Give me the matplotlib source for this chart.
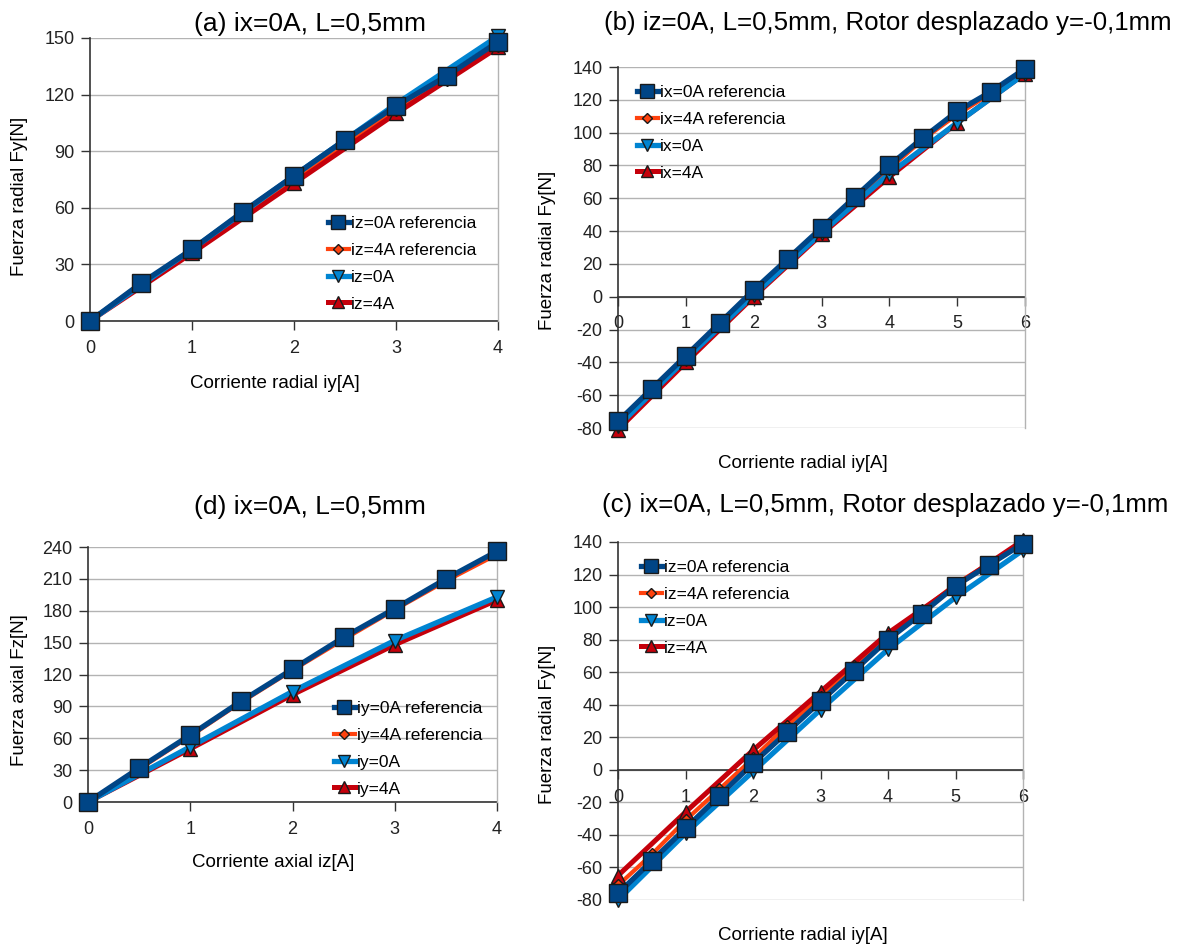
import matplotlib
matplotlib.use("Agg")
import matplotlib.pyplot as plt
from matplotlib.lines import Line2D

plt.rcParams['font.family'] = ['Liberation Sans', 'DejaVu Sans']
plt.rcParams['axes.unicode_minus'] = False

W, H = 1183, 947

# ---------------- data ----------------
iy_half_4 = [0, 0.5, 1, 1.5, 2, 2.5, 3, 3.5, 4]
iy_int_4 = [0, 1, 2, 3, 4]
iy_half_6 = [0, 0.5, 1, 1.5, 2, 2.5, 3, 3.5, 4, 4.5, 5, 5.5, 6]
iy_int_6 = [0, 1, 2, 3, 4, 5, 6]

# (a) Fy vs iy, ix=0A
a_ref_iz0 = [0, 20, 38, 58, 77, 96, 114, 130, 148]
a_ref_iz4 = [0, 20, 37, 57, 75, 94, 112, 128, 146]
a_iz0 = [0, 38, 77, 115, 151]
a_iz4 = [0, 36, 73, 110, 145]

# (b) Fy vs iy, iz=0A, rotor displaced
b_ref_ix0 = [-76, -56, -36, -16, 4, 23, 42, 61, 80, 97, 113, 125, 139]
b_ref_ix4 = [-78, -57, -38, -17, 2, 21, 40, 60, 78, 96, 111, 124, 137]
b_ix0 = [-79, -38, 1, 39, 75, 106, 136]
b_ix4 = [-81, -40, 0, 38, 73, 106, 136]

# (c) Fy vs iy, ix=0A, rotor displaced
c_ref_iz0 = [-76, -56, -36, -16, 4, 23, 42, 61, 80, 96, 113, 126, 139]
c_ref_iz4 = [-71, -52, -31, -12, 7, 27, 45, 64, 82, 98, 114, 127, 140]
c_iz0 = [-80, -39, -1, 37, 74, 106, 135]
c_iz4 = [-65, -26, 12, 48, 84, 113, 141]

# (d) Fz vs iz, ix=0A
d_ref_iy0 = [0, 32, 63, 95, 125, 155, 182, 210, 236]
d_ref_iy4 = [0, 31, 62, 94, 124, 153, 181, 208, 233]
d_iy0 = [0, 52, 104, 152, 193]
d_iy4 = [0, 50, 101, 148, 190]

titles = ["(a) ix=0A, L=0,5mm",
          "(b) iz=0A, L=0,5mm, Rotor desplazado y=-0,1mm",
          "(c) ix=0A, L=0,5mm, Rotor desplazado y=-0,1mm",
          "(d) ix=0A, L=0,5mm"]
labels_a = ["iz=0A referencia", "iz=4A referencia", "iz=0A", "iz=4A"]
labels_b = ["ix=0A referencia", "ix=4A referencia", "ix=0A", "ix=4A"]
labels_c = ["iz=0A referencia", "iz=4A referencia", "iz=0A", "iz=4A"]
labels_d = ["iy=0A referencia", "iy=4A referencia", "iy=0A", "iy=4A"]

# ---------------- styles ----------------
DARK = '#004586'
ORANGE = '#ff420e'
LIGHT = '#0084d1'
RED = '#c5000b'
GRID = '#b3b3b3'
AXC = '#333333'

styles = [
    dict(color=DARK, marker='s', ms=12.5, lw=3.8, zl=2.4, zm=3.4),
    dict(color=ORANGE, marker='D', ms=6.5, lw=3.0, zl=2.1, zm=3.3),
    dict(color=LIGHT, marker='v', ms=10, lw=3.8, zl=2.3, zm=3.2),
    dict(color=RED, marker='^', ms=10, lw=3.6, zl=2.2, zm=3.1),
]


def px(x, y):
    return x / W, 1 - y / H


fig = plt.figure(figsize=(W / 100, H / 100), dpi=100)


def make_axes(l, r, t, b):
    return fig.add_axes([l / W, 1 - b / H, (r - l) / W, (b - t) / H])


def plot_panel(ax, xs_list, ys_list, labels, xlim, ylim, yticks, xticks):
    handles = []
    for xs, ys, st, lab in zip(xs_list, ys_list, styles, labels):
        ax.plot(xs, ys, color=st['color'], lw=st['lw'], zorder=st['zl'],
                solid_capstyle='butt', clip_on=False)
        ax.plot(xs, ys, ls='none', marker=st['marker'], ms=st['ms'],
                mfc=st['color'], mec='#1a1a1a', mew=1.0, zorder=st['zm'],
                clip_on=False)
        handles.append(Line2D([0], [0], color=st['color'], lw=st['lw'],
                              marker=st['marker'], ms=st['ms'] * 0.8,
                              mfc=st['color'], mec='#1a1a1a', mew=1.0,
                              label=lab))
    ax.set_xlim(*xlim)
    ax.set_ylim(*ylim)
    ax.set_yticks(yticks)
    ax.set_xticks(xticks)
    ax.yaxis.grid(True, color=GRID, lw=1.0, zorder=0)
    ax.set_axisbelow(True)
    ax.spines['top'].set_visible(False)
    ax.spines['right'].set_color(GRID)
    ax.spines['right'].set_linewidth(1.0)
    ax.spines['left'].set_color(AXC)
    ax.spines['left'].set_linewidth(1.2)
    ax.spines['bottom'].set_color(AXC)
    ax.spines['bottom'].set_linewidth(1.2)
    ax.spines['bottom'].set_zorder(1.5)
    ax.tick_params(axis='both', direction='out', length=6.5, width=1.0,
                   color=AXC, labelsize=13, labelcolor='#222222')
    ax.tick_params(axis='y', pad=4.5)
    ax.tick_params(axis='x', pad=7)
    return handles


def add_legend(ax, handles, x, y):
    ax.legend(handles=handles, loc='upper left',
              bbox_to_anchor=px(x, y), bbox_transform=fig.transFigure,
              frameon=False, fontsize=12.5, handlelength=1.2,
              handletextpad=0.1, labelspacing=0.67, borderpad=0,
              borderaxespad=0, numpoints=1)


# (a)
ax_a = make_axes(90, 498, 38, 321)
h = plot_panel(ax_a, [iy_half_4, iy_half_4, iy_int_4, iy_int_4],
               [a_ref_iz0, a_ref_iz4, a_iz0, a_iz4], labels_a,
               (0, 4), (0, 150), list(range(0, 151, 30)), [0, 1, 2, 3, 4])
add_legend(ax_a, h, 328, 216)

# (b)
ax_b = make_axes(618, 1025, 67, 428)
h = plot_panel(ax_b, [iy_half_6, iy_half_6, iy_int_6, iy_int_6],
               [b_ref_ix0, b_ref_ix4, b_ix0, b_ix4], labels_b,
               (0, 6), (-80, 140), list(range(-80, 141, 20)), list(range(0, 7)))
ax_b.spines['bottom'].set_position(('data', 0))
add_legend(ax_b, h, 637, 85)

# (c)
ax_c = make_axes(618, 1023, 542, 900)
h = plot_panel(ax_c, [iy_half_6, iy_half_6, iy_int_6, iy_int_6],
               [c_ref_iz0, c_ref_iz4, c_iz0, c_iz4], labels_c,
               (0, 6), (-80, 140), list(range(-80, 141, 20)), list(range(0, 7)))
ax_c.spines['bottom'].set_position(('data', 0))
add_legend(ax_c, h, 641, 560)

# (d)
ax_d = make_axes(88, 497, 547, 802)
h = plot_panel(ax_d, [iy_half_4, iy_half_4, iy_int_4, iy_int_4],
               [d_ref_iy0, d_ref_iy4, d_iy0, d_iy4], labels_d,
               (0, 4), (0, 240), list(range(0, 241, 30)), [0, 1, 2, 3, 4])
add_legend(ax_d, h, 334, 701)

# titles
fig.text(*px(310, 24), titles[0], ha='center', va='center', fontsize=19)
fig.text(*px(604, 23), titles[1], ha='left', va='center', fontsize=18.6)
fig.text(*px(602, 505), titles[2], ha='left', va='center', fontsize=18.6)
fig.text(*px(310, 507), titles[3], ha='center', va='center', fontsize=19)

# axis labels
fig.text(*px(275, 383), "Corriente radial iy[A]", ha='center', va='center', fontsize=13.5)
fig.text(*px(803, 463), "Corriente radial iy[A]", ha='center', va='center', fontsize=13.5)
fig.text(*px(803, 935), "Corriente radial iy[A]", ha='center', va='center', fontsize=13.5)
fig.text(*px(273, 862), "Corriente axial iz[A]", ha='center', va='center', fontsize=13.5)
fig.text(*px(20, 196), "Fuerza radial Fy[N]", ha='center', va='center', rotation=90, fontsize=13.5)
fig.text(*px(548, 250), "Fuerza radial Fy[N]", ha='center', va='center', rotation=90, fontsize=13.5)
fig.text(*px(548, 724), "Fuerza radial Fy[N]", ha='center', va='center', rotation=90, fontsize=13.5)
fig.text(*px(20, 690), "Fuerza axial Fz[N]", ha='center', va='center', rotation=90, fontsize=13.5)

fig.savefig("out.png", dpi=100)
